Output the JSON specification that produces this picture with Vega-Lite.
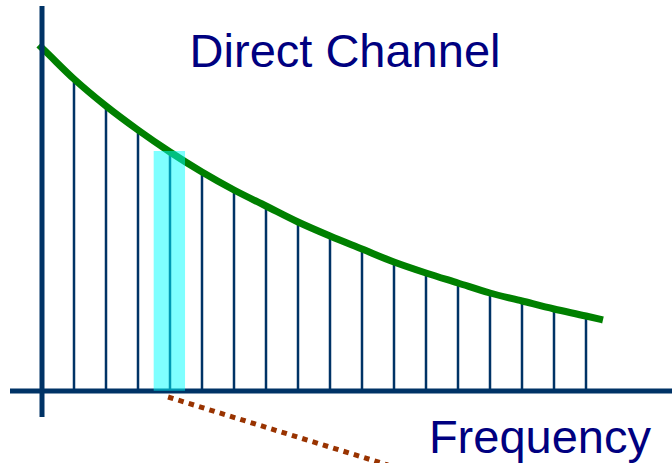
{
  "$schema": "https://vega.github.io/schema/vega-lite/v6.json",
  "width": 672,
  "height": 463,
  "autosize": {"type": "none"},
  "padding": 0,
  "background": "white",
  "config": {"view": {"stroke": null}},
  "datasets": {
    "curve": [
      {"f": -0.1, "a": 346},
      {"f": 0, "a": 343},
      {"f": 1, "a": 312},
      {"f": 2, "a": 285},
      {"f": 3, "a": 261},
      {"f": 4, "a": 239},
      {"f": 5, "a": 219},
      {"f": 6, "a": 201},
      {"f": 7, "a": 185},
      {"f": 8, "a": 169},
      {"f": 9, "a": 155},
      {"f": 10, "a": 142},
      {"f": 11, "a": 129},
      {"f": 12, "a": 118},
      {"f": 13, "a": 108},
      {"f": 14, "a": 98},
      {"f": 15, "a": 90},
      {"f": 16, "a": 82},
      {"f": 17, "a": 75},
      {"f": 17.53, "a": 71}
    ],
    "stems": [
      {"f": 1, "a": 312},
      {"f": 2, "a": 285},
      {"f": 3, "a": 261},
      {"f": 4, "a": 239},
      {"f": 5, "a": 219},
      {"f": 6, "a": 201},
      {"f": 7, "a": 185},
      {"f": 8, "a": 169},
      {"f": 9, "a": 155},
      {"f": 10, "a": 142},
      {"f": 11, "a": 129},
      {"f": 12, "a": 118},
      {"f": 13, "a": 108},
      {"f": 14, "a": 98},
      {"f": 15, "a": 90},
      {"f": 16, "a": 82},
      {"f": 17, "a": 75}
    ],
    "axes": [
      {"f": -1, "a": 0, "f2": 19.69, "a2": 0},
      {"f": 0, "a": 385, "f2": 0, "a2": -26}
    ],
    "band": [{"f": 3.49, "f2": 4.47, "a": 0.3, "a2": 240}],
    "link": [{"f": 3.94, "a": -6, "f2": 10.81, "a2": -74}],
    "labels": [
      {"f": 9.47, "a": 324, "label": "Direct Channel"},
      {"f": 15.56, "a": -62, "label": "Frequency"}
    ]
  },
  "layer": [
    {
      "data": {"name": "stems"},
      "mark": {"type": "rule", "color": "#003366", "strokeWidth": 2.5},
      "encoding": {
        "x": {"field": "f", "type": "quantitative", "scale": {"domain": [-1.3125, 19.6875], "nice": false, "zero": false}, "axis": null},
        "y": {"field": "a", "type": "quantitative", "scale": {"domain": [-72, 391], "nice": false, "zero": false}, "axis": null},
        "y2": {"datum": 0}
      }
    },
    {
      "data": {"name": "curve"},
      "mark": {"type": "line", "color": "#008000", "strokeWidth": 7, "interpolate": "monotone", "strokeCap": "butt"},
      "encoding": {
        "x": {"field": "f", "type": "quantitative"},
        "y": {"field": "a", "type": "quantitative"}
      }
    },
    {
      "data": {"name": "axes"},
      "mark": {"type": "rule", "color": "#003366", "strokeWidth": 5},
      "encoding": {
        "x": {"field": "f", "type": "quantitative"},
        "y": {"field": "a", "type": "quantitative"},
        "x2": {"field": "f2"},
        "y2": {"field": "a2"}
      }
    },
    {
      "data": {"name": "band"},
      "mark": {"type": "rect", "color": "#00FFFF", "opacity": 0.5},
      "encoding": {
        "x": {"field": "f", "type": "quantitative"},
        "x2": {"field": "f2"},
        "y": {"field": "a", "type": "quantitative"},
        "y2": {"field": "a2"}
      }
    },
    {
      "data": {"name": "link"},
      "mark": {"type": "rule", "color": "#993300", "strokeWidth": 5, "strokeDash": [5.5, 5.3]},
      "encoding": {
        "x": {"field": "f", "type": "quantitative"},
        "y": {"field": "a", "type": "quantitative"},
        "x2": {"field": "f2"},
        "y2": {"field": "a2"}
      }
    },
    {
      "data": {"name": "labels"},
      "mark": {"type": "text", "font": "Liberation Sans", "fontSize": 47, "color": "#000080", "align": "center", "baseline": "alphabetic"},
      "encoding": {
        "x": {"field": "f", "type": "quantitative"},
        "y": {"field": "a", "type": "quantitative"},
        "text": {"field": "label"}
      }
    }
  ]
}
